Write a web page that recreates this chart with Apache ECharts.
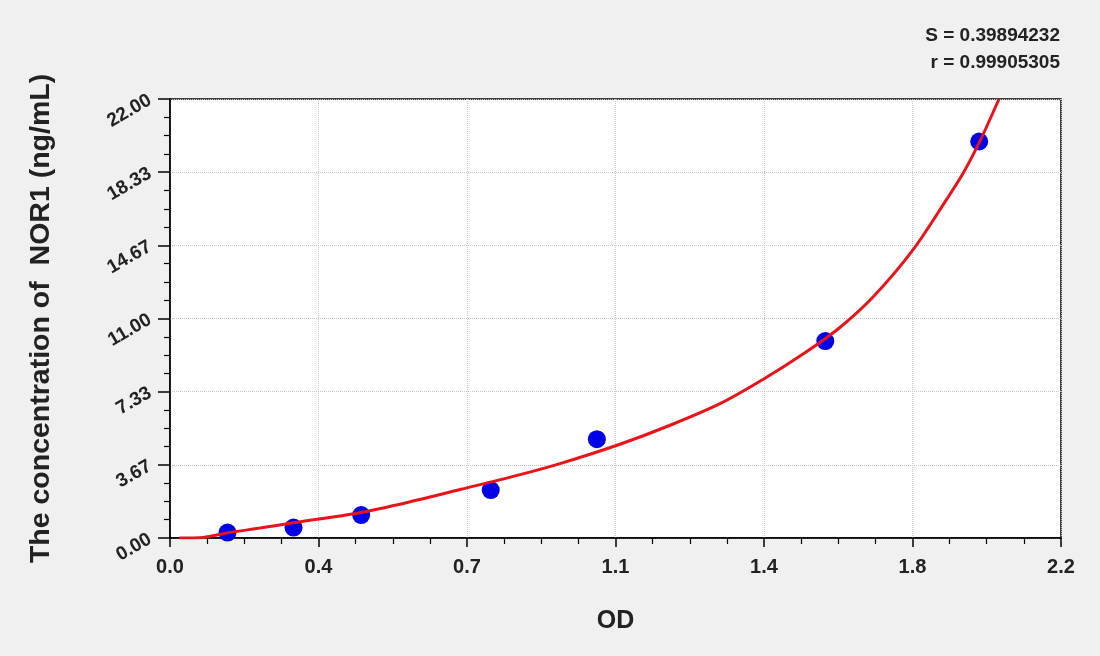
<!DOCTYPE html>
<html><head><meta charset="utf-8">
<script src="https://cdn.jsdelivr.net/npm/echarts@6/dist/echarts.min.js"></script>
<style>html,body{margin:0;padding:0;background:#f0f0f0}#c{width:1100px;height:656px}</style>
</head><body><div id="c"></div>
<script>
// Standard points (OD, concentration)
const pointOD   = [0.142, 0.305, 0.472, 0.792, 1.054, 1.618, 1.998];
const pointConc = [0.27, 0.52, 1.15, 2.40, 4.95, 9.87, 19.87];
// Fitted curve
const curveOD   = [0.023, 0.082, 0.140, 0.222, 0.304, 0.469, 0.600, 0.716, 0.850, 0.963, 1.111, 1.235, 1.358, 1.467, 1.564, 1.654, 1.737, 1.835, 1.918, 1.959, 2.000, 2.047];
const curveConc = [0.00, 0.03, 0.25, 0.50, 0.76, 1.27, 1.85, 2.43, 3.10, 3.73, 4.70, 5.65, 6.73, 7.98, 9.23, 10.55, 12.10, 14.45, 16.98, 18.30, 19.90, 22.00];
// Tick labels
const xTickLabels = ['0.0','0.4','0.7','1.1','1.4','1.8','2.2'];
const yTickLabels = ['0.00','3.67','7.33','11.00','14.67','18.33','22.00'];
const annotations = ['S = 0.39894232', 'r = 0.99905305'];

const FONT = 'Arial, "Liberation Sans", sans-serif';
const XMAX = 2.2, YMAX = 22;
const xStep = XMAX / 6, yStep = YMAX / 6;

const chart = echarts.init(document.getElementById('c'));
chart.setOption({
  backgroundColor: '#f0f0f0',
  animation: false,
  grid: { left: 170, right: 39, top: 99, bottom: 118, show: true, backgroundColor: '#ffffff', borderColor: '#000', borderWidth: 1.5 },
  xAxis: {
    type: 'value', min: 0, max: XMAX, interval: xStep,
    name: 'OD', nameLocation: 'middle', nameGap: 71,
    nameTextStyle: { fontFamily: FONT, fontWeight: 'bold', fontSize: 25, color: '#222' },
    axisLine: { show: true, lineStyle: { color: '#000', width: 1.5 } },
    axisTick: { show: true, length: 9, lineStyle: { color: '#000', width: 1.5 } },
    minorTick: { show: true, splitNumber: 4, length: 6, lineStyle: { color: '#000', width: 1.2 } },
    splitLine: { show: true, lineStyle: { color: '#c8c8c8', type: 'dotted', width: 1 } },
    axisLabel: { fontFamily: FONT, fontWeight: 'bold', fontSize: 20, color: '#222', margin: 19,
      formatter: v => xTickLabels[Math.round(v / xStep)] }
  },
  yAxis: {
    type: 'value', min: 0, max: YMAX, interval: yStep,
    name: 'The concentration of  NOR1 (ng/mL)', nameLocation: 'middle', nameGap: 114,
    nameTextStyle: { fontFamily: FONT, fontWeight: 'bold', fontSize: 28.5, color: '#222' },
    axisLine: { show: true, lineStyle: { color: '#000', width: 1.5 } },
    axisTick: { show: true, length: 12, lineStyle: { color: '#000', width: 1.5 } },
    minorTick: { show: true, splitNumber: 4, length: 6, lineStyle: { color: '#000', width: 1.2 } },
    splitLine: { show: true, lineStyle: { color: '#c8c8c8', type: 'dotted', width: 1 } },
    axisLabel: { fontFamily: FONT, fontWeight: 'bold', fontSize: 19, color: '#222', rotate: 30, margin: 20,
      formatter: v => yTickLabels[Math.round(v / yStep)] }
  },
  graphic: annotations.map((t, i) => ({
    type: 'text', right: 40, top: 26 + i * 27,
    style: { text: t, fontFamily: FONT, fontWeight: 'bold', fontSize: 19, fill: '#222', textAlign: 'right' }
  })),
  series: [
    { type: 'line', data: curveOD.map((x, i) => [x, curveConc[i]]), smooth: 0.3, showSymbol: false,
      lineStyle: { color: '#e8141a', width: 3 }, z: 3 },
    { type: 'scatter', data: pointOD.map((x, i) => [x, pointConc[i]]), symbolSize: 18,
      itemStyle: { color: '#0000e6', opacity: 1 }, z: 2 }
  ]
});
</script></body></html>
